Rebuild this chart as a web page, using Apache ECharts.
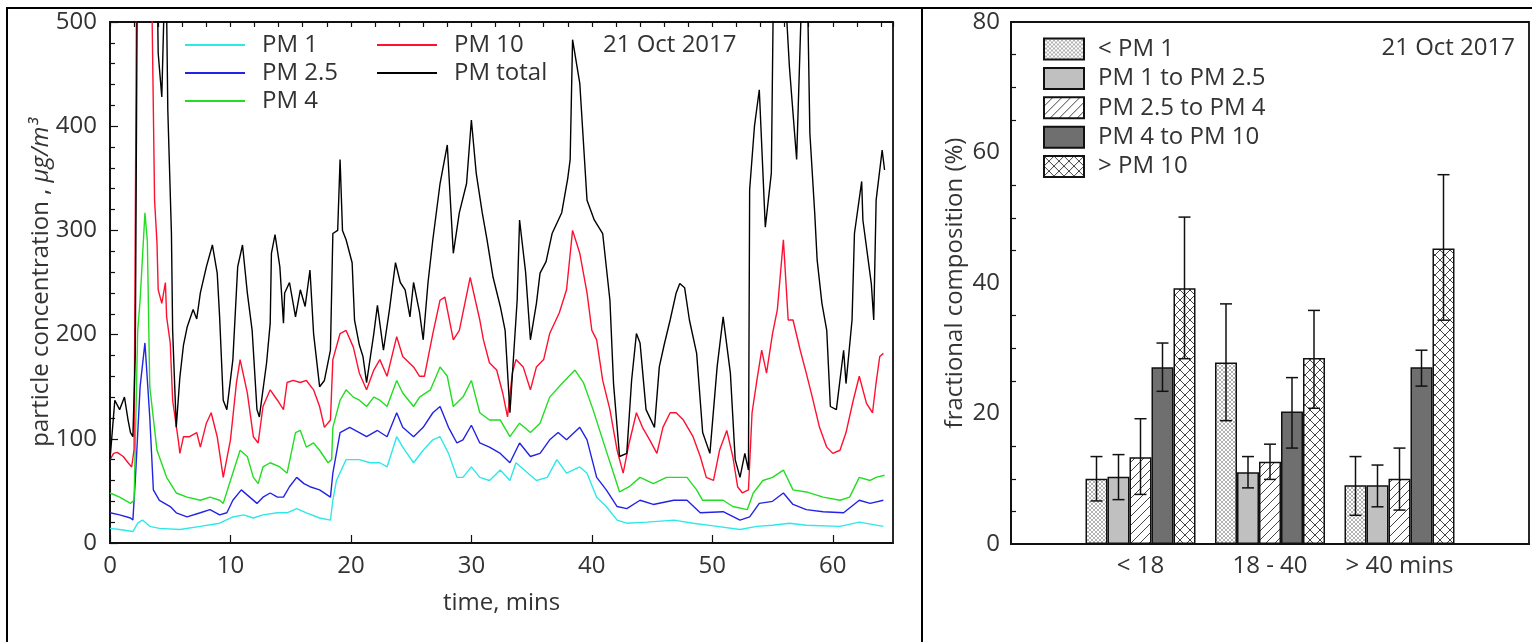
<!DOCTYPE html>
<html>
<head>
<meta charset="utf-8">
<script src="https://cdn.jsdelivr.net/npm/echarts@6/dist/echarts.min.js"></script>
<style>
  html, body { margin: 0; padding: 0; background: #fff; }
  #chart { width: 1532px; height: 642px; }
</style>
</head>
<body>
<div id="chart"></div>
<script>
// ---- left panel: particle concentration vs time, [minutes, ug/m3] ----
const pm1 = [[0,14],[0.8,13],[1.9,11],[2.3,19],[2.7,22],[3.3,16],[4.1,14],[5.8,13],[7.5,16],[9.1,19],[10.2,25],[11.1,27],[11.9,24],[12.7,27],[13.9,29],[14.7,29],[15.5,33],[16.3,29],[17.4,24],[18.3,22],[18.5,41],[18.8,60],[19.6,80],[20.7,80],[21.6,77],[22.4,77],[23.0,73],[23.8,102],[24.3,92],[25.2,77],[26.0,89],[26.8,99],[27.4,102],[28.1,86],[28.8,63],[29.3,63],[30.0,73],[30.7,63],[31.5,60],[32.4,70],[33.2,60],[33.7,77],[34.7,67],[35.4,60],[36.3,63],[37.1,80],[37.9,67],[39.0,73],[39.6,67],[40.4,44],[41.2,35],[42.1,22],[42.9,19],[44.6,20],[46.8,22],[48.4,19],[50.4,16],[52.3,13],[53.7,16],[55.0,17],[56.4,19],[57.8,17],[60.6,16],[62.2,20],[64.2,16]];

const pm25 = [[0,29],[0.8,27],[1.7,24],[1.9,22],[2.1,60],[2.5,150],[2.9,192],[3.3,121],[3.6,51],[4.1,41],[5.0,35],[5.5,29],[6.4,25],[7.5,29],[8.3,32],[9.1,27],[9.7,29],[10.2,41],[10.9,51],[11.6,44],[12.2,38],[12.7,44],[13.3,48],[13.9,44],[14.4,44],[14.9,54],[15.5,63],[16.1,57],[16.6,54],[17.4,51],[18.3,44],[18.5,67],[19.1,106],[19.9,111],[20.7,106],[21.3,102],[22.2,108],[23.0,102],[23.8,125],[24.3,111],[25.2,102],[26.0,111],[26.8,125],[27.4,131],[28.1,111],[28.8,96],[29.3,99],[30.0,113],[30.7,96],[31.5,92],[32.4,86],[33.2,77],[34.0,96],[34.9,83],[35.7,86],[36.5,99],[37.2,106],[37.9,99],[39.0,111],[39.6,99],[40.4,63],[41.2,51],[42.1,35],[42.9,33],[44.0,41],[45.1,37],[46.8,41],[47.9,41],[49.0,29],[50.9,30],[52.3,22],[53.1,25],[53.9,38],[55.0,40],[55.9,48],[56.7,37],[57.8,32],[59.2,30],[60.9,29],[62.2,41],[63.1,38],[64.2,41]];

const pm4 = [[0,48],[0.8,44],[1.7,38],[2.0,41],[2.3,204],[2.5,233],[2.9,317],[3.1,290],[3.3,150],[3.9,89],[4.7,63],[5.5,48],[6.4,44],[7.5,41],[8.3,44],[9.1,41],[9.4,38],[10.0,60],[10.8,89],[11.4,83],[11.9,63],[12.3,57],[12.7,73],[13.3,77],[14.1,73],[14.7,67],[15.4,106],[15.8,108],[16.3,92],[16.9,96],[17.4,89],[18.1,77],[18.4,80],[18.5,111],[19.1,137],[19.6,147],[20.2,140],[20.7,137],[21.3,131],[21.9,140],[22.4,137],[23.0,131],[23.8,156],[24.3,144],[25.2,131],[25.7,140],[26.6,147],[27.4,169],[28.0,160],[28.5,131],[29.3,140],[30.0,156],[30.7,125],[31.5,118],[32.4,118],[33.2,102],[34.0,115],[34.9,106],[35.7,115],[36.5,140],[37.6,154],[38.6,166],[39.3,154],[40.1,128],[40.9,99],[41.8,67],[42.3,49],[43.1,54],[44.0,63],[45.1,57],[46.2,63],[47.9,63],[48.7,51],[49.2,41],[50.9,41],[51.7,35],[52.9,32],[53.4,48],[54.2,60],[55.0,63],[55.9,70],[56.7,51],[57.8,49],[59.2,44],[60.6,41],[61.4,44],[62.2,63],[63.1,60],[63.6,63],[64.3,65]];

const pm10 = [[0,80],[0.3,86],[0.6,87],[1.1,83],[1.5,77],[1.8,73],[2.0,90],[2.2,520],[3.0,700],[3.5,500],[3.7,329],[3.9,288],[4.0,243],[4.3,230],[4.6,250],[4.7,217],[5.0,192],[5.2,137],[5.7,96],[5.8,86],[6.1,102],[6.6,102],[7.2,106],[7.5,92],[8.0,115],[8.4,125],[8.9,102],[9.4,63],[10.0,99],[10.5,154],[10.8,176],[11.4,144],[11.9,102],[12.3,96],[12.7,131],[13.3,147],[13.9,137],[14.4,128],[14.7,154],[15.2,156],[15.8,154],[16.3,156],[16.9,147],[17.4,131],[17.8,111],[18.3,118],[18.5,176],[19.1,201],[19.6,204],[20.2,188],[20.7,163],[21.3,147],[21.9,166],[22.4,176],[23.0,160],[23.8,198],[24.3,179],[25.2,169],[25.7,160],[26.1,160],[26.8,201],[27.4,233],[27.8,236],[28.5,195],[29.0,204],[29.9,255],[30.7,214],[31.0,195],[31.5,173],[32.1,166],[32.6,144],[33.0,121],[33.4,163],[33.7,176],[34.3,169],[34.9,147],[35.4,169],[36.0,176],[36.5,201],[37.3,221],[37.9,243],[38.4,300],[39.0,278],[39.6,240],[40.0,204],[40.4,195],[40.9,156],[41.5,128],[42.1,89],[42.6,67],[43.1,96],[43.7,125],[44.2,111],[44.8,99],[45.4,86],[45.9,111],[46.5,125],[47.0,125],[47.6,118],[48.4,102],[49.0,83],[49.5,63],[50.1,60],[50.6,89],[51.2,108],[51.7,83],[52.1,54],[52.5,48],[53.0,51],[53.3,125],[53.7,156],[54.1,185],[54.5,163],[55.0,201],[55.4,224],[55.9,291],[56.3,214],[56.7,214],[57.3,185],[57.8,163],[58.3,140],[58.9,111],[59.5,92],[60.0,86],[60.6,89],[61.1,106],[61.7,137],[62.2,160],[62.8,134],[63.3,125],[63.6,154],[63.9,179],[64.2,182]];

const pmTotal = [[0,80],[0.4,137],[0.8,128],[1.2,140],[1.5,118],[1.7,106],[1.9,102],[2.1,182],[2.3,620],[3.0,700],[3.8,640],[4.0,470],[4.3,428],[4.5,520],[4.7,510],[4.8,415],[5.1,297],[5.2,204],[5.5,111],[5.8,159],[6.1,190],[6.4,207],[6.9,224],[7.2,215],[7.5,240],[8.0,265],[8.5,286],[8.9,259],[9.1,217],[9.4,137],[9.7,128],[10.2,176],[10.6,265],[11.0,286],[11.4,240],[11.8,204],[12.2,128],[12.4,121],[13.0,173],[13.3,211],[13.4,278],[13.7,296],[14.1,265],[14.4,211],[14.5,240],[14.9,250],[15.4,217],[15.8,243],[16.2,227],[16.6,262],[16.9,201],[17.4,150],[17.8,156],[18.3,185],[18.5,297],[18.9,300],[19.1,368],[19.3,300],[19.6,291],[20.1,269],[20.3,214],[20.7,190],[21.0,179],[21.3,154],[21.9,201],[22.2,228],[22.7,185],[23.2,224],[23.7,269],[24.1,250],[24.5,243],[24.9,217],[25.2,250],[25.7,221],[26.0,195],[26.4,250],[26.8,291],[27.4,345],[28.0,382],[28.5,278],[29.0,317],[29.6,345],[30.0,406],[30.4,355],[30.9,317],[31.3,291],[31.8,255],[32.4,227],[32.8,204],[33.2,125],[33.8,233],[34.0,310],[34.5,260],[34.9,195],[35.4,230],[35.7,259],[36.2,270],[36.7,297],[37.5,317],[38.0,350],[38.2,368],[38.4,483],[39.0,441],[39.6,329],[40.2,310],[40.9,297],[41.5,233],[41.8,153],[42.3,83],[42.9,86],[43.3,156],[43.7,201],[44.0,192],[44.5,128],[45.2,111],[45.6,169],[46.0,190],[46.5,214],[47.0,240],[47.3,249],[47.7,245],[48.1,214],[48.7,182],[49.2,106],[49.8,86],[50.4,169],[50.9,217],[51.5,163],[51.9,80],[52.3,63],[52.7,86],[53.0,70],[53.1,339],[53.5,400],[53.9,435],[54.4,303],[54.9,355],[55.1,560],[55.6,620],[56.0,540],[56.4,457],[57.0,368],[57.4,520],[57.8,600],[58.1,393],[58.5,317],[58.7,272],[59.1,230],[59.5,204],[59.8,131],[60.3,128],[60.9,185],[61.1,153],[61.6,214],[61.8,297],[62.4,347],[62.5,310],[63.2,249],[63.4,214],[63.6,329],[64.1,377],[64.3,358]];

// ---- right panel: fractional composition (%) per time window ----
const groups = ['< 18', '18 - 40', '> 40 mins'];
const fractions = ['< PM 1', 'PM 1 to PM 2.5', 'PM 2.5 to PM 4', 'PM 4 to PM 10', '> PM 10'];
const fracMean = [[10.0, 27.8, 9.0], [10.3, 11.0, 9.0], [13.3, 12.6, 10.0], [27.1, 20.3, 27.1], [39.2, 28.5, 45.3]];
const fracLow  = [[6.6, 18.9, 4.4], [6.8, 8.6, 5.7], [7.6, 9.9, 5.2], [23.4, 14.7, 24.2], [28.4, 20.8, 34.3]];
const fracHigh = [[13.4, 36.8, 13.4], [13.7, 13.4, 12.1], [19.2, 15.3, 14.7], [30.8, 25.5, 29.7], [50.1, 35.8, 56.6]];

const FONT = 'Open Sans';
const TXT = '#333';
const FS = 24;
const BAR_W = 22;

// hatch fills like the gnuplot patterns
function pattern(size, color, width, slash, back) {
  const c = document.createElement('canvas');
  c.width = c.height = size;
  const g = c.getContext('2d');
  g.fillStyle = '#fff';
  g.fillRect(0, 0, size, size);
  g.strokeStyle = color;
  g.lineWidth = width;
  g.beginPath();
  if (slash) {
    g.moveTo(-1, size + 1); g.lineTo(size + 1, -1);
    g.moveTo(-1, 1); g.lineTo(1, -1);
    g.moveTo(size - 1, size + 1); g.lineTo(size + 1, size - 1);
  }
  if (back) {
    g.moveTo(-1, -1); g.lineTo(size + 1, size + 1);
    g.moveTo(-1, size - 1); g.lineTo(1, size + 1);
    g.moveTo(size - 1, -1); g.lineTo(size + 1, 1);
  }
  g.stroke();
  return { image: c, repeat: 'repeat' };
}

const fills = [
  pattern(4, '#a0a0a0', 0.8, true, true),
  '#c0c0c0',
  pattern(9, '#444', 1, true, false),
  '#6f6f6f',
  pattern(10, '#444', 1, true, true)
];

const lineDefs = [
  ['PM 1', pm1, '#2ee8e8'],
  ['PM 2.5', pm25, '#2323e6'],
  ['PM 4', pm4, '#22dd22'],
  ['PM 10', pm10, '#ff1030'],
  ['PM total', pmTotal, '#000']
];

const lineSeries = lineDefs.map(([name, data, color]) => ({
  name,
  type: 'line',
  xAxisIndex: 0,
  yAxisIndex: 0,
  data,
  symbol: 'none',
  clip: true,
  lineStyle: { width: 1.4, color },
  itemStyle: { color }
}));

const barSeries = fractions.map((name, k) => ({
  name,
  type: 'bar',
  xAxisIndex: 2,
  yAxisIndex: 1,
  barWidth: BAR_W,
  barGap: '0%',
  data: [null, ...fracMean[k], null],
  itemStyle: { color: fills[k], borderColor: '#111', borderWidth: 1.5 }
}));

const errData = [];
fractions.forEach((f, k) => {
  groups.forEach((g, i) => errData.push([i + 1, k, fracLow[k][i], fracHigh[k][i]]));
});

const errSeries = {
  type: 'custom',
  xAxisIndex: 2,
  yAxisIndex: 1,
  z: 5,
  data: errData,
  encode: { x: 0, y: [2, 3] },
  renderItem: (params, api) => {
    const lo = api.coord([api.value(0), api.value(2)]);
    const hi = api.coord([api.value(0), api.value(3)]);
    const x = lo[0] + (api.value(1) - 2) * BAR_W;
    const st = { stroke: '#111', lineWidth: 1.5 };
    const cap = 6;
    return {
      type: 'group',
      children: [
        { type: 'line', shape: { x1: x, y1: lo[1], x2: x, y2: hi[1] }, style: st },
        { type: 'line', shape: { x1: x - cap, y1: hi[1], x2: x + cap, y2: hi[1] }, style: st },
        { type: 'line', shape: { x1: x - cap, y1: lo[1], x2: x + cap, y2: lo[1] }, style: st }
      ]
    };
  }
};

const axisLine = { show: true, lineStyle: { color: '#111', width: 1.8 } };
const label = { fontSize: FS, color: TXT, fontFamily: FONT };
const tickStyle = { color: '#111', width: 1.2 };

const option = {
  animation: false,
  backgroundColor: '#fff',
  textStyle: { fontFamily: FONT },
  grid: [
    { left: 110, top: 22, width: 783, height: 521, show: true, borderColor: '#111', borderWidth: 1.8 },
    { left: 1011, top: 22, width: 520, height: 522, show: true, borderColor: '#111', borderWidth: 1.8 }
  ],
  title: [
    { text: '21 Oct 2017', left: 603, top: 33, padding: 0, textStyle: { ...label, fontWeight: 'normal' } },
    { text: '21 Oct 2017', right: 17, top: 36, padding: 0, textStyle: { ...label, fontWeight: 'normal' } }
  ],
  legend: [
    {
      data: ['PM 1', 'PM 2.5', 'PM 4'], left: 180, top: 28, orient: 'vertical', icon: 'rect',
      itemWidth: 60, itemHeight: 2, itemGap: 4,
      textStyle: { ...label, padding: [0, 0, 0, 12] }
    },
    {
      data: ['PM 10', 'PM total'], left: 372, top: 28, orient: 'vertical', icon: 'rect',
      itemWidth: 60, itemHeight: 2, itemGap: 4,
      textStyle: { ...label, padding: [0, 0, 0, 12] }
    },
    {
      data: fractions, left: 1038, top: 32, orient: 'vertical', icon: 'rect',
      itemWidth: 40, itemHeight: 21, itemGap: 5.4,
      textStyle: { ...label, padding: [0, 0, 0, 9] }
    }
  ],
  xAxis: [
    {
      type: 'value', gridIndex: 0, min: 0, max: 65, interval: 10,
      axisLine,
      axisTick: { inside: true, length: 8, lineStyle: tickStyle },
      axisLabel: { ...label, margin: 11, showMaxLabel: false },
      splitLine: { show: false },
      name: 'time, mins', nameLocation: 'middle', nameGap: 48,
      nameTextStyle: { ...label }
    },
    {
      type: 'value', gridIndex: 0, min: 0, max: 65, interval: 2,
      axisLine: { show: false },
      axisTick: { inside: true, length: 5, lineStyle: tickStyle },
      axisLabel: { show: false },
      splitLine: { show: false }
    },
    {
      type: 'category', gridIndex: 1, boundaryGap: false,
      data: ['', ...groups, ''],
      axisLine,
      axisTick: { show: false },
      axisLabel: { ...label, margin: 10, interval: 0 },
      splitLine: { show: false }
    }
  ],
  yAxis: [
    {
      type: 'value', gridIndex: 0, min: 0, max: 500, interval: 100,
      axisLine,
      axisTick: { inside: true, length: 8, lineStyle: tickStyle },
      minorTick: { show: true, splitNumber: 5, length: 5, lineStyle: tickStyle },
      axisLabel: { ...label, margin: 13 },
      splitLine: { show: false },
      name: '{n|particle concentration , }{i|\u03bcg/m\u00b3}',
      nameLocation: 'middle', nameGap: 57, nameMoveOverlap: false,
      nameTextStyle: {
        ...label,
        rich: {
          n: { fontSize: FS, color: TXT, fontFamily: FONT },
          i: { fontSize: FS, color: TXT, fontFamily: FONT, fontStyle: 'italic' }
        }
      }
    },
    {
      type: 'value', gridIndex: 1, min: 0, max: 80, interval: 20,
      axisLine,
      axisTick: { inside: true, length: 8, lineStyle: tickStyle },
      minorTick: { show: true, splitNumber: 4, length: 5, lineStyle: tickStyle },
      axisLabel: { ...label, margin: 11 },
      splitLine: { show: false },
      name: 'fractional composition (%)',
      nameLocation: 'middle', nameGap: 44,
      nameTextStyle: { ...label }
    }
  ],
  graphic: [
    { type: 'line', shape: { x1: 6, y1: 8, x2: 1532, y2: 8 }, style: { stroke: '#000', lineWidth: 2 } },
    { type: 'line', shape: { x1: 7, y1: 7, x2: 7, y2: 642 }, style: { stroke: '#000', lineWidth: 2 } },
    { type: 'line', shape: { x1: 922, y1: 7, x2: 922, y2: 642 }, style: { stroke: '#000', lineWidth: 2 } }
  ],
  series: [...lineSeries, ...barSeries, errSeries]
};

const chart = echarts.init(document.getElementById('chart'), null, { renderer: 'canvas' });
chart.setOption(option);
</script>
</body>
</html>
